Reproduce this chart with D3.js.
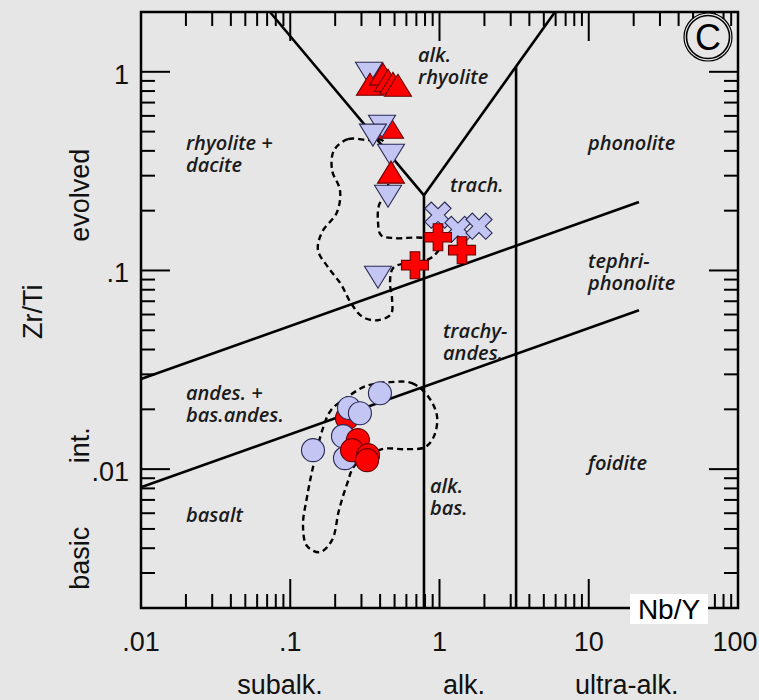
<!DOCTYPE html>
<html><head><meta charset="utf-8">
<script src="https://cdn.jsdelivr.net/npm/d3@7"></script>
<style>body{margin:0;background:#e6e6e6;} svg{display:block}</style>
</head><body>
<svg id="chart" width="759" height="700"></svg>
<script>
// ---------- data ----------
const xDomain = [0.01, 100];
const yDomain = [0.002, 2];
const xTickValues = [0.01, 0.1, 1, 10, 100];
const xTickLabels = [".01", ".1", "1", "10", "100"];
const yTickValues = [0.01, 0.1, 1];
const yTickLabels = [".01", ".1", "1"];
const xGroupLabels = ["subalk.", "alk.", "ultra-alk."];
const xGroupAt = [0.0853, 1.46, 18.0];
const yGroupLabels = ["evolved", "int.", "basic"];
const yGroupAt = [0.239, 0.0132, 0.00356];

// classification boundaries (Nb/Y, Zr/Ti)
const bndLeftDiag  = [[0.0731, 2], [0.787, 0.239]];
const bndRightDiag = [[0.787, 0.239], [5.94, 2]];
const bndAlk       = [[0.787, 0.239], [0.787, 0.002]];
const bndUltra     = [[3.26, 1.064], [3.26, 0.002]];
const bndUpper     = [[0.01, 0.0284], [21.7, 0.221]];
const bndLower     = [[0.01, 0.0081], [21.7, 0.063]];

// field names: [lines, Nb/Y, Zr/Ti]
const fieldNames = [
  [["alk.", "rhyolite"], 0.718, 1.118],
  [["rhyolite +", "dacite"], 0.0200, 0.403],
  [["phonolite"], 9.89, 0.403],
  [["trach."], 1.176, 0.2477],
  [["tephri-", "phonolite"], 9.89, 0.1027],
  [["trachy-", "andes."], 1.055, 0.0456],
  [["andes. +", "bas.andes."], 0.0200, 0.02225],
  [["foidite"], 9.89, 0.00988],
  [["alk.", "bas."], 0.8636, 0.00757],
  [["basalt"], 0.0200, 0.00541]
];

// dashed field outlines
const outlineEvolved = [
  [0.332,0.453],[0.2436,0.458],[0.1964,0.403],[0.1905,0.320],[0.2154,0.2535],
  [0.2057,0.1965],[0.1632,0.1559],[0.1534,0.1265],[0.1790,0.1039],[0.2188,0.0853],
  [0.2553,0.0684],[0.3072,0.0582],[0.3872,0.0562],[0.4732,0.0603],[0.4805,0.0725],
  [0.4659,0.0863],[0.4880,0.1027],[0.5874,0.1088],[0.7176,0.1101],[0.8906,0.1166],
  [1.008,0.1325],[0.7995,0.1454],[0.5033,0.1454],[0.4055,0.1505],[0.3872,0.1750],
  [0.3933,0.2132],[0.4381,0.2449],[0.4659,0.359],[0.4119,0.453]
];
const outlineBasic = [
  [0.466,0.0274],[0.654,0.0271],[0.837,0.0233],[0.962,0.0185],[0.919,0.01466],
  [0.7995,0.0129],[0.5874,0.0126],[0.4119,0.0126],[0.2715,0.01047],[0.240,0.0084],
  [0.2121,0.00622],[0.1905,0.00439],[0.1582,0.00382],[0.1295,0.0041],[0.1217,0.00523],
  [0.1295,0.00723],[0.142,0.01023],[0.1657,0.0161],[0.1875,0.0198],[0.240,0.0230],
  [0.3218,0.0262]
];

// samples [Nb/Y, Zr/Ti]
const redTriBehind = [[0.466, 0.526]];
const blueTriDown = [[0.337,0.984],[0.412,0.532],[0.358,0.480],[0.473,0.380],[0.452,0.2365],[0.387,0.0925]];
const redTriUp = [[0.342,0.866],[0.418,0.973],[0.452,0.907],[0.488,0.876],[0.527,0.856],[0.473,0.3125]];
const blueCross = [[0.977,0.190],[1.33,0.161],[1.84,0.167]];
const redPlus = [[0.977,0.147],[1.415,0.1265],[0.685,0.1063]];
const redCircleBehind = [[0.240,0.01806]];
const blueCircle = [[0.399,0.0241],[0.2475,0.0203],[0.293,0.0191],[0.2256,0.01466],[0.142,0.01246],[0.2326,0.01136],[0.3025,0.01204]];
const redCircle = [[0.284,0.0140],[0.2593,0.01246],[0.332,0.01176],[0.327,0.0111]];

// ---------- drawing ----------
const L = 141, R = 738, T = 12, B = 608;
const BG = "#e6e6e6";
const svg = d3.select("#chart");
const x = d3.scaleLog().domain(xDomain).range([L, R]);
const y = d3.scaleLog().domain(yDomain).range([B, T]);
const RED = "#ff0000", RED_E = "#6a0000", BLUE = "#c3c5f3", BLUE_E = "#2a2a55";
const AX_FONT = "'Liberation Sans', Arial, sans-serif";

svg.append("rect").attr("width", 759).attr("height", 700).attr("fill", BG);

// ticks
function logTicks(dom) {
  const t = [];
  const lo = Math.floor(Math.log10(dom[0])), hi = Math.ceil(Math.log10(dom[1]));
  for (let e = lo; e <= hi; e++) for (let k = 1; k <= 9; k++) {
    const v = k * Math.pow(10, e);
    if (v >= dom[0] * 0.999 && v <= dom[1] * 1.001) t.push({v, major: k === 1});
  }
  return t;
}
const tg = svg.append("g").attr("stroke", "#000").attr("stroke-width", 2);
logTicks(xDomain).forEach(t => {
  const px = x(t.v), len = t.major ? 29 : 14;
  tg.append("line").attr("x1", px).attr("x2", px).attr("y1", B).attr("y2", B - len);
  tg.append("line").attr("x1", px).attr("x2", px).attr("y1", T).attr("y2", T + len);
});
logTicks(yDomain).forEach(t => {
  const py = y(t.v), len = t.major ? 29 : 14;
  tg.append("line").attr("x1", L).attr("x2", L + len).attr("y1", py).attr("y2", py);
  tg.append("line").attr("x1", R).attr("x2", R - len).attr("y1", py).attr("y2", py);
});
svg.append("rect").attr("x", L).attr("y", T).attr("width", R - L).attr("height", B - T)
  .attr("fill", "none").attr("stroke", "#000").attr("stroke-width", 2.5);

// boundaries
const line = d3.line().x(d => x(d[0])).y(d => y(d[1]));
[bndLeftDiag, bndRightDiag, bndAlk, bndUltra, bndUpper, bndLower].forEach(b =>
  svg.append("path").attr("d", line(b)).attr("fill", "none").attr("stroke", "#000").attr("stroke-width", 2.6));

// dashed outlines
const closed = d3.line().x(d => x(d[0])).y(d => y(d[1])).curve(d3.curveCatmullRomClosed.alpha(0.5));
[outlineEvolved, outlineBasic].forEach(o =>
  svg.append("path").attr("d", closed(o)).attr("fill", "none").attr("stroke", "#000")
    .attr("stroke-width", 2.4).attr("stroke-dasharray", "6,4"));

// field names
const fg = svg.append("g").attr("font-family", "'Open Sans', sans-serif").attr("font-style", "italic")
  .attr("font-weight", 600).attr("font-size", 20).attr("fill", "#1a1a1a");
fieldNames.forEach(f => {
  const t = fg.append("text").attr("x", x(f[1])).attr("y", y(f[2]));
  f[0].forEach((s, i) => t.append("tspan").attr("x", x(f[1])).attr("dy", i ? 22 : 0).text(s));
});

// symbols
const triUp = "M0,-11L13.5,11L-13.5,11Z";
const triDown = "M-13.5,-11L13.5,-11L0,11Z";
const plusP = "M-4.8,-13.5H4.8V-4.8H13.5V4.8H4.8V13.5H-4.8V4.8H-13.5V-4.8H-4.8Z";
const xP = "M-4.5,-14H4.5V-4.5H14V4.5H4.5V14H-4.5V4.5H-14V-4.5H-4.5Z";
function draw(data, shape, fill, stroke, rot) {
  svg.append("g").selectAll("path").data(data).join("path")
    .attr("d", shape)
    .attr("transform", d => `translate(${x(d[0])},${y(d[1])})` + (rot ? ` rotate(${rot})` : ""))
    .attr("fill", fill).attr("stroke", stroke).attr("stroke-width", 1.1);
}
function drawC(data, fill, stroke) {
  svg.append("g").selectAll("circle").data(data).join("circle")
    .attr("cx", d => x(d[0])).attr("cy", d => y(d[1])).attr("r", 11.5)
    .attr("fill", fill).attr("stroke", stroke).attr("stroke-width", 1.1);
}
draw(redTriBehind, triUp, RED, RED_E);
draw(blueTriDown, triDown, BLUE, BLUE_E);
draw(redTriUp, triUp, RED, RED_E);
draw(blueCross, xP, BLUE, BLUE_E, 45);
draw(redPlus, plusP, RED, RED_E);
drawC(redCircleBehind, RED, RED_E);
drawC(blueCircle, BLUE, BLUE_E);
drawC(redCircle, RED, RED_E);

// Nb/Y box and panel letter circles (under text)
svg.append("rect").attr("x", 630).attr("y", 594).attr("width", 78).attr("height", 30).attr("fill", "#fff");
svg.append("circle").attr("cx", 708).attr("cy", 37).attr("r", 24).attr("fill", BG).attr("stroke", "#000").attr("stroke-width", 1.2);
svg.append("circle").attr("cx", 708).attr("cy", 37).attr("r", 21.5).attr("fill", "none").attr("stroke", "#000").attr("stroke-width", 1.6);

// axis labels
const ag = svg.append("g").attr("font-family", AX_FONT).attr("fill", "#111");
xTickValues.forEach((v, i) => ag.append("text").attr("x", Math.min(x(v), 735)).attr("y", 651)
  .attr("text-anchor", "middle").attr("font-size", 27).text(xTickLabels[i]));
yTickValues.forEach((v, i) => ag.append("text").attr("x", 129).attr("y", y(v) + 12)
  .attr("text-anchor", "end").attr("font-size", 27).text(yTickLabels[i]));
xGroupLabels.forEach((s, i) => ag.append("text").attr("x", x(xGroupAt[i])).attr("y", 694)
  .attr("text-anchor", "middle").attr("font-size", 27).text(s));
yGroupLabels.forEach((s, i) => ag.append("text")
  .attr("transform", `translate(89,${y(yGroupAt[i])}) rotate(-90)`)
  .attr("text-anchor", "middle").attr("font-size", 27).text(s));
ag.append("text").attr("transform", `translate(42,${y(0.062)}) rotate(-90)`)
  .attr("text-anchor", "middle").attr("font-size", 27).text("Zr/Ti");
ag.append("text").attr("x", 669).attr("y", 619).attr("text-anchor", "middle").attr("font-size", 28).attr("fill", "#000").text("Nb/Y");
ag.append("text").attr("x", 708).attr("y", 50).attr("text-anchor", "middle").attr("font-size", 36).attr("fill", "#000").text("C");
</script>
</body></html>
